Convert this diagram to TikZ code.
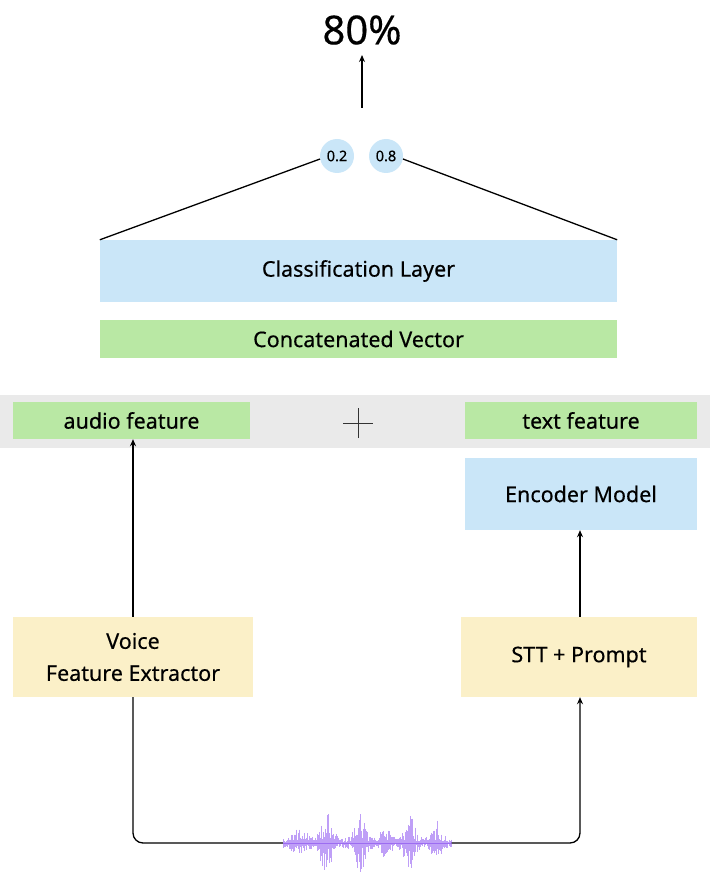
\documentclass[tikz,border=0pt]{standalone}
\usepackage{fontspec}
\setmainfont{Noto Sans}[FakeBold=0.35]
\usetikzlibrary{arrows.meta}
\definecolor{cblue}{HTML}{CAE6F8}
\definecolor{cgreen}{HTML}{B9E8A4}
\definecolor{cyellow}{HTML}{FBF0C8}
\definecolor{cgray}{HTML}{EAEAEA}
\definecolor{cpurple}{HTML}{9C6CF2}
\begin{document}
\begin{tikzpicture}[x=1pt,y=-1pt,
  box/.style={draw=none,inner sep=0pt,align=center,font=\fontsize{21.5}{32}\selectfont},
  bluebox/.style={box,fill=cblue},
  greenbox/.style={box,fill=cgreen},
  yellowbox/.style={box,fill=cyellow},
  prob/.style={circle,fill=cblue,inner sep=0pt,minimum size=34pt,font=\fontsize{14.5}{16}\selectfont},
  conn/.style={line width=1.3pt,black},
  arr/.style={conn,-{Stealth[length=7pt,width=6pt]}},
  wave/.style={cpurple,line width=0.8pt,opacity=0.65}]
\useasboundingbox (0,0) rectangle (710,877);
% gray band
\fill[cgray] (0,395) rectangle (710,448);
% top
\node[font=\fontsize{40}{44}\selectfont] (pct) at (362,30) {80\%};
\coordinate (a0) at (362,108);
\draw[arr] (a0) -- (362,55);
\node[prob] (c1) at (337,156) {0.2};
\node[prob] (c2) at (386,156) {0.8};
% boxes
\node[bluebox,minimum width=517pt,minimum height=62pt] (cls) at (358.5,271) {Classification Layer};
\node[greenbox,minimum width=517pt,minimum height=38pt] (cat) at (358.5,339) {Concatenated Vector};
\node[greenbox,minimum width=237pt,minimum height=37pt] (aud) at (131.5,420.5) {audio feature};
\node[greenbox,minimum width=232pt,minimum height=37pt] (txt) at (581,420.5) {text feature};
\coordinate (plus) at (358,423);
\draw[line width=1pt,black!80] ([xshift=-15pt]plus) -- ([xshift=15pt]plus) ([yshift=-15pt]plus) -- ([yshift=15pt]plus);
\node[bluebox,minimum width=232pt,minimum height=72pt] (enc) at (581,494) {Encoder Model};
\node[yellowbox,minimum width=236pt,minimum height=80pt] (stt) at (579,657) {STT + Prompt};
\node[yellowbox,minimum width=240pt,minimum height=80pt] (vfe) at (133,657) {Voice\\Feature Extractor};
% lines to classification layer
\draw[conn] (c1.190) -- (cls.north west);
\draw[conn] (c2.-10) -- (cls.north east);
% arrows
\draw[arr] (vfe.north) -- (vfe.north |- aud.south);
\draw[arr] (stt.north -| 580,0) -- (580,0 |- enc.south);
% bottom connectors
\coordinate (wl) at (283,843);
\coordinate (wr) at (451,843);
\draw[conn,rounded corners=10pt] (vfe.south) |- (wl);
\draw[arr,rounded corners=10pt] (wr) -| (580,0 |- stt.south);
% waveform
\draw[cpurple,line width=1pt] (wl) -- (wr);
\pgfmathsetseed{11}
\foreach \i in {0,...,168}{
  \pgfmathsetmacro\xx{283+\i}
  \pgfmathsetmacro\da{(\xx-300)/9}
  \pgfmathsetmacro\db{(\xx-326)/7}
  \pgfmathsetmacro\dc{(\xx-360)/6.5}
  \pgfmathsetmacro\dd{(\xx-385)/7}
  \pgfmathsetmacro\de{(\xx-409)/6.5}
  \pgfmathsetmacro\df{(\xx-436)/6}
  \pgfmathsetmacro\env{5
   +11*exp(-min(\da*\da,30))
   +30*exp(-min(\db*\db,30))
   +30*exp(-min(\dc*\dc,30))
   +10*exp(-min(\dd*\dd,30))
   +26*exp(-min(\de*\de,30))
   +18*exp(-min(\df*\df,30))}
  \pgfmathsetmacro\up{\env*(0.15+0.85*rnd)}
  \pgfmathsetmacro\dn{\env*(0.15+0.85*rnd)}
  \draw[wave] (\xx,{843-\up}) -- (\xx,{843+\dn});
}
\end{tikzpicture}
\end{document}
